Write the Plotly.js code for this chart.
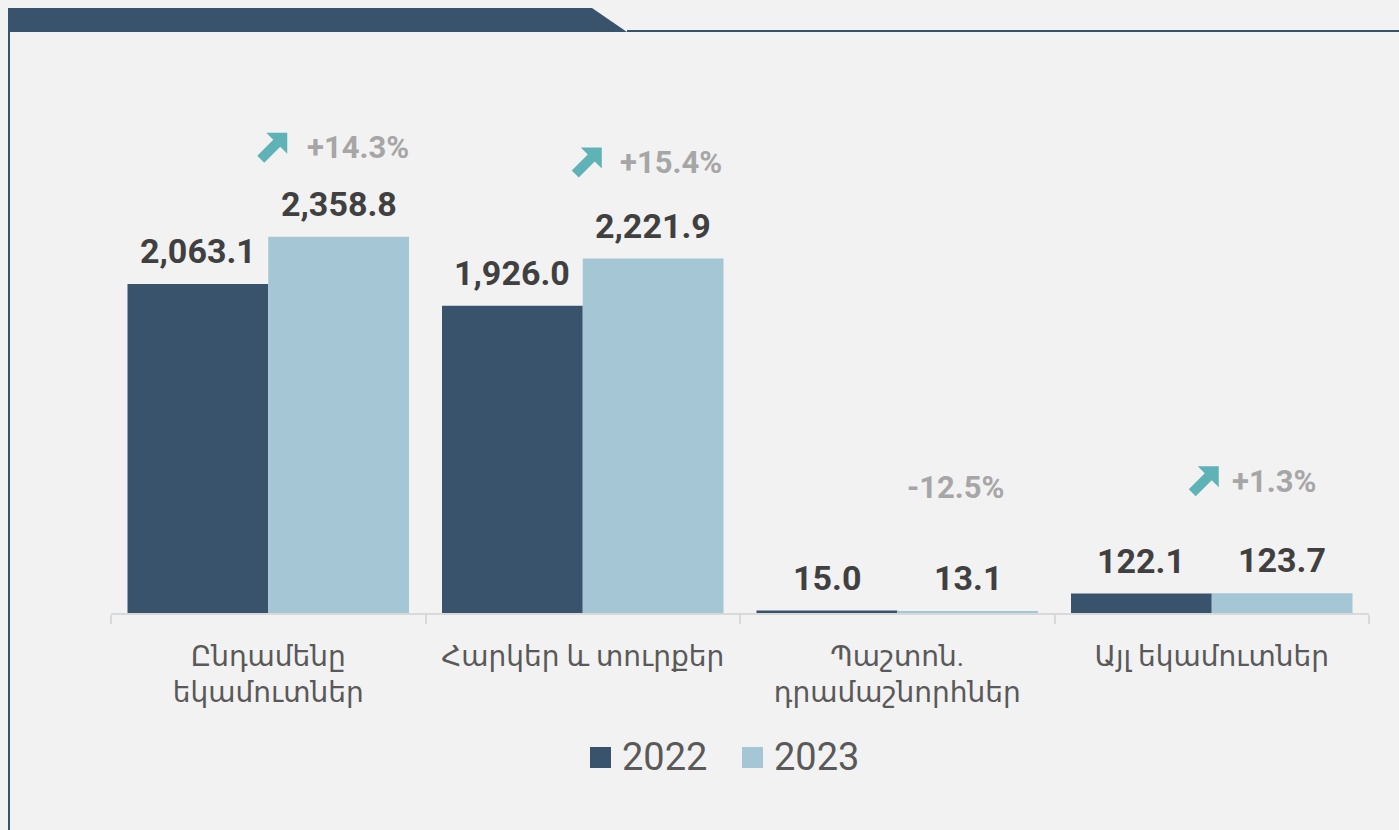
<!DOCTYPE html>
<html>
<head>
<meta charset="utf-8">
<script src="https://cdn.plot.ly/plotly-3.0.1.min.js"></script>
<style>
  html, body { margin: 0; padding: 0; background: #f2f2f2; }
  #plot { width: 1399px; height: 830px; }
</style>
</head>
<body>
<div id="plot"></div>
<script>
// data
var categories = ["Ընդամենը<br>եկամուտներ", "Հարկեր և տուրքեր", "Պաշտոն.<br>դրամաշնորհներ", "Այլ եկամուտներ"];
var values2022 = [2063.1, 1926.0, 15.0, 122.1];
var values2023 = [2358.8, 2221.9, 13.1, 123.7];
var changeLabels = ["+14.3%", "+15.4%", "-12.5%", "+1.3%"];
var seriesNames = ["2022", "2023"];

var dark = "#38536b";
var light = "#a5c6d5";
var teal = "#5fb2b6";

// page geometry (pixels)
var W = 1399, H = 830;
var M = { l: 111, r: 30, t: 40, b: 217 };
var plotW = W - M.l - M.r;
var plotH = H - M.t - M.b;
function px(x) { return (x - M.l) / plotW; }
function py(y) { return (H - M.b - y) / plotH; }

var barHalf = 70.5;           // half of a bar width in px, used to centre labels
var changeLift = [89, 96, 123, 112];
var changeShift = [90, 88, 58, 62];
var arrowShift = [4, 4, 0, -8];

var trace1 = {
  x: categories, y: values2022, type: "bar", name: seriesNames[0],
  marker: { color: dark }, hoverinfo: "y", showlegend: false
};
var trace2 = {
  x: categories, y: values2023, type: "bar", name: seriesNames[1],
  marker: { color: light }, hoverinfo: "y", showlegend: false
};

function fmt(v) {
  return v.toLocaleString("en-US", { minimumFractionDigits: 1, maximumFractionDigits: 1 });
}

var annotations = [];
var shapes = [];

categories.forEach(function (c, i) {
  // value labels
  [values2022, values2023].forEach(function (vals, s) {
    annotations.push({
      x: c, y: vals[i], xref: "x", yref: "y",
      xshift: s === 0 ? -barHalf : barHalf, yshift: 11,
      yanchor: "bottom", showarrow: false,
      text: "<b>" + fmt(vals[i]) + "</b>",
      font: { family: "Roboto", size: 34, color: "#404040" }
    });
  });
  // change labels
  annotations.push({
    x: c, y: values2023[i], xref: "x", yref: "y",
    xshift: changeShift[i], yshift: changeLift[i],
    yanchor: "middle", showarrow: false,
    text: "<b>" + changeLabels[i] + "</b>",
    font: { family: "Roboto", size: 31, color: "#a6a6a6" }
  });
  // up arrow for growth
  if (changeLabels[i].charAt(0) === "+") {
    var ox = arrowShift[i] - 15, oy = changeLift[i] - 15;
    var pts = [[30, 30], [9, 30], [16, 23], [0, 7], [7, 0], [23, 16], [30, 9]];
    var path = pts.map(function (p, k) {
      return (k === 0 ? "M" : "L") + (p[0] + ox) + "," + (p[1] + oy);
    }).join(" ") + " Z";
    shapes.push({
      type: "path", xref: "x", yref: "y",
      xsizemode: "pixel", ysizemode: "pixel",
      xanchor: c, yanchor: values2023[i],
      path: path, fillcolor: teal, line: { width: 0 }
    });
  }
});

// header band and frame lines
shapes.push({
  type: "path", xref: "paper", yref: "paper",
  path: "M" + px(8) + "," + py(8) + " L" + px(592) + "," + py(8) +
        " L" + px(627) + "," + py(32) + " L" + px(8) + "," + py(32) + " Z",
  fillcolor: dark, line: { width: 0 }
});
shapes.push({
  type: "line", xref: "paper", yref: "paper",
  x0: px(627), x1: px(1399), y0: py(31), y1: py(31),
  line: { color: dark, width: 2 }
});
shapes.push({
  type: "line", xref: "paper", yref: "paper",
  x0: px(9), x1: px(9), y0: py(32), y1: py(830),
  line: { color: dark, width: 2 }
});

// custom legend with larger swatches
var legendX = [590, 742];
seriesNames.forEach(function (name, s) {
  shapes.push({
    type: "rect", xref: "paper", yref: "paper",
    x0: px(legendX[s]), x1: px(legendX[s] + 21),
    y0: py(747), y1: py(768),
    fillcolor: s === 0 ? dark : light, line: { width: 0 }
  });
  annotations.push({
    xref: "paper", yref: "paper",
    x: px(legendX[s] + 30), y: py(757),
    xanchor: "left", yanchor: "middle", showarrow: false,
    text: name,
    font: { family: "Roboto", size: 38, color: "#595959" }
  });
});

var layout = {
  width: W, height: H,
  margin: M,
  paper_bgcolor: "#f2f2f2",
  plot_bgcolor: "#f2f2f2",
  barmode: "group",
  bargap: 0.105,
  bargroupgap: 0,
  showlegend: false,
  xaxis: {
    type: "category",
    showline: true, linecolor: "#d9d9d9", linewidth: 2,
    ticks: "outside", tickson: "boundaries", ticklen: 9, tickcolor: "#d9d9d9", tickwidth: 2,
    tickfont: { family: "Roboto, 'Noto Sans', 'DejaVu Sans'", size: 28, color: "#595959" },
    ticklabelstandoff: 17,
    fixedrange: true
  },
  yaxis: {
    range: [0, plotH / 0.1595],
    visible: false, showgrid: false, zeroline: false,
    fixedrange: true
  },
  annotations: annotations,
  shapes: shapes
};

Plotly.newPlot("plot", [trace1, trace2], layout, { displayModeBar: false, staticPlot: true });
</script>
</body>
</html>
